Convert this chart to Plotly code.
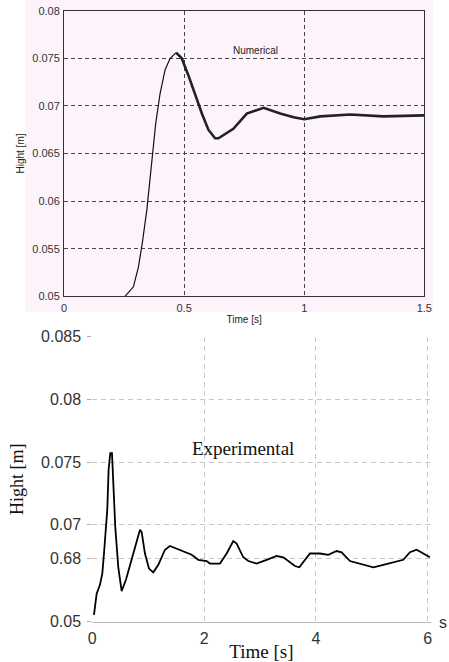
import plotly.graph_objects as go

# ---------------- data ----------------
# Numerical (top panel): rising part and oscillating part
num_t_rise = [0.254, 0.289, 0.310, 0.326, 0.345, 0.365, 0.382, 0.400, 0.421, 0.442, 0.467]
num_h_rise = [0.0500, 0.0510, 0.0531, 0.0556, 0.0591, 0.0643, 0.0682, 0.0713, 0.0738, 0.0750, 0.0756]
num_t_osc = [0.467, 0.490, 0.518, 0.546, 0.574, 0.601, 0.629, 0.643, 0.705, 0.761, 0.831,
             0.900, 0.956, 1.000, 1.067, 1.192, 1.330, 1.500]
num_h_osc = [0.0756, 0.0750, 0.0732, 0.0711, 0.0692, 0.0675, 0.0666, 0.0666, 0.0676, 0.0692, 0.0698,
             0.0692, 0.0688, 0.0686, 0.0689, 0.0691, 0.0689, 0.0690]

# Experimental (bottom panel)
exp_t = [0.03, 0.078, 0.137, 0.179, 0.209, 0.244, 0.268, 0.292, 0.322, 0.352, 0.376, 0.411,
         0.465, 0.525, 0.602, 0.704, 0.793, 0.853, 0.883, 0.942, 1.014, 1.091, 1.181, 1.30,
         1.389, 1.509, 1.688, 1.777, 1.896, 2.045, 2.105, 2.284, 2.403, 2.522, 2.582, 2.701,
         2.791, 2.94, 3.119, 3.298, 3.417, 3.536, 3.625, 3.703, 3.787, 3.894, 4.073, 4.222,
         4.371, 4.46, 4.609, 4.788, 5.027, 5.206, 5.385, 5.563, 5.683, 5.802, 5.921, 6.04]
exp_h = [0.0628, 0.0645, 0.0652, 0.0661, 0.0677, 0.0698, 0.0712, 0.0744, 0.0757, 0.0757, 0.0736, 0.0698,
         0.0666, 0.0647, 0.0656, 0.0672, 0.0688, 0.0696, 0.0694, 0.0677, 0.0665, 0.0662, 0.0668, 0.0680,
         0.0683, 0.0681, 0.0678, 0.0676, 0.0672, 0.0671, 0.0669, 0.0669, 0.0677, 0.0687, 0.0685, 0.0674,
         0.0671, 0.0669, 0.0672, 0.0675, 0.0674, 0.0670, 0.0667, 0.0666, 0.0671, 0.0677, 0.0677, 0.0676,
         0.0679, 0.0678, 0.0671, 0.0669, 0.0666, 0.0668, 0.0670, 0.0672, 0.0678, 0.0680, 0.0677, 0.0674]

top_xticks = [0, 0.5, 1, 1.5]
top_xtext = ["0", "0.5", "1", "1.5"]
top_yticks = [0.05, 0.055, 0.06, 0.065, 0.07, 0.075, 0.08]
top_ytext = ["0.05", "0.055", "0.06", "0.065", "0.07", "0.075", "0.08"]

bot_xticks = [0, 2, 4, 6]
bot_xtext = ["0", "2", "4", "6"]
# the original axis labels are irregular; they sit at these heights
bot_yticks = [0.06226, 0.0673, 0.070, 0.075, 0.080, 0.085]
bot_ytext = ["0.05", "0.68", "0.07", "0.075", "0.08", "0.085"]

W, H = 449, 662
def px_x(p): return p / W
def px_y(p): return 1 - p / H

SANS = "Liberation Sans, Arial"
SERIF = "Liberation Serif, Times New Roman"

fig = go.Figure()
fig.add_trace(go.Scatter(x=num_t_rise, y=num_h_rise, mode="lines",
                         line=dict(color="#111111", width=1.2), xaxis="x", yaxis="y", showlegend=False))
fig.add_trace(go.Scatter(x=num_t_osc, y=num_h_osc, mode="lines",
                         line=dict(color="#222222", width=2.6), xaxis="x", yaxis="y", showlegend=False))
fig.add_trace(go.Scatter(x=exp_t, y=exp_h, mode="lines",
                         line=dict(color="#000000", width=1.8), xaxis="x2", yaxis="y2", showlegend=False))

fig.update_layout(
    width=W, height=H,
    margin=dict(l=0, r=0, t=0, b=0),
    paper_bgcolor="white",
    plot_bgcolor="rgba(0,0,0,0)",
    xaxis=dict(domain=[px_x(64), px_x(424.3)], anchor="y", range=[0, 1.5], automargin=False,
               tickvals=top_xticks, ticktext=top_xtext,
               showline=True, mirror=True, linecolor="#333", linewidth=1,
               showgrid=True, gridcolor="#444", griddash="4px,3px", gridwidth=1,
               zeroline=False, ticks="", ticklabelstandoff=1,
               tickfont=dict(family=SANS, size=11, color="#333"),
               title=dict(text="Time [s]", standoff=3,
                          font=dict(family=SANS, size=10, color="#222"))),
    yaxis=dict(domain=[px_y(296.3), px_y(10.7)], anchor="x", range=[0.05, 0.08], automargin=False,
               tickvals=top_yticks, ticktext=top_ytext,
               showline=True, mirror=True, linecolor="#333", linewidth=1,
               showgrid=True, gridcolor="#444", griddash="4px,3px", gridwidth=1,
               zeroline=False, ticks="", ticklabelstandoff=1,
               tickfont=dict(family=SANS, size=11, color="#333"),
               title=dict(text="Hight [m]", standoff=5,
                          font=dict(family=SANS, size=10, color="#222"))),
    xaxis2=dict(domain=[px_x(92.3), px_x(430.5)], anchor="y2", range=[0, 6.05], automargin=False,
                tickvals=bot_xticks, ticktext=bot_xtext,
                showline=True, linecolor="#bbbbbb", linewidth=1,
                showgrid=True, gridcolor="#c8c8c8", griddash="5px,4px", gridwidth=1,
                zeroline=False, ticks="", ticklabelstandoff=2,
                tickfont=dict(family=SANS, size=16, color="#333"),
                title=dict(text="Time [s]", standoff=0,
                           font=dict(family=SERIF, size=19, color="#111"))),
    yaxis2=dict(domain=[px_y(621.7), px_y(336.7)], anchor="x2", range=[0.06226, 0.085], automargin=False,
                tickvals=bot_yticks, ticktext=bot_ytext,
                showline=False,
                showgrid=True, gridcolor="#c8c8c8", griddash="5px,4px", gridwidth=1,
                zeroline=False, ticks="outside", ticklen=4, tickcolor="#aaaaaa", ticklabelstandoff=3,
                tickfont=dict(family=SANS, size=16, color="#333"),
                title=dict(text="Hight [m]", standoff=12,
                           font=dict(family=SERIF, size=18, color="#111"))),
    shapes=[dict(type="rect", xref="paper", yref="paper", layer="below",
                 x0=px_x(25), x1=px_x(433), y0=px_y(312), y1=1,
                 fillcolor="#fcf3fb", line=dict(width=0))],
    annotations=[
        dict(text="Numerical", x=0.796, y=0.0758, xref="x", yref="y", showarrow=False,
             font=dict(family=SANS, size=10, color="#222")),
        dict(text="Experimental", x=2.70, y=0.0761, xref="x2", yref="y2", showarrow=False,
             font=dict(family=SERIF, size=19, color="#111")),
        dict(text="s", x=px_x(438), y=px_y(632), xref="paper", yref="paper", showarrow=False,
             xanchor="left", yanchor="bottom", borderpad=0,
             font=dict(family=SANS, size=16, color="#333")),
    ],
)

fig.write_html("out.html", config={"displayModeBar": False},
               post_script="document.body.style.margin='0';document.body.style.padding='0';"
                           "document.body.style.overflow='hidden';")
